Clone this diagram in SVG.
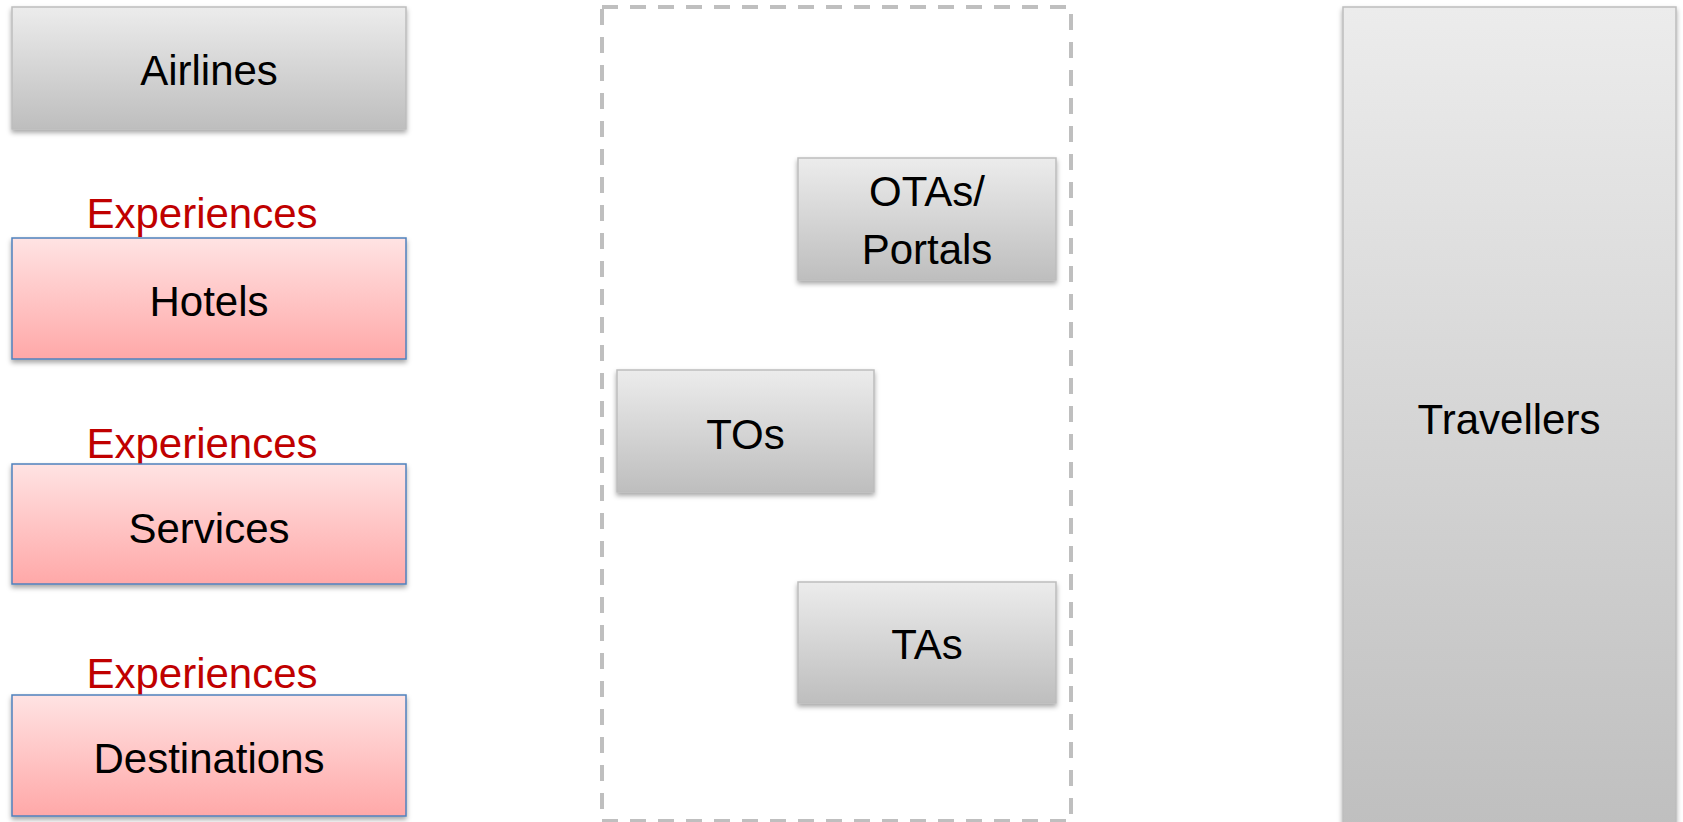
<svg xmlns="http://www.w3.org/2000/svg" width="1683" height="822" viewBox="0 0 1683 822">
  <defs>
    <linearGradient id="gGray" x1="0" y1="0" x2="0" y2="1">
      <stop offset="0" stop-color="#ECECEC"/>
      <stop offset="1" stop-color="#BEBEBE"/>
    </linearGradient>
    <linearGradient id="gPink" x1="0" y1="0" x2="0" y2="1">
      <stop offset="0" stop-color="#FFE3E3"/>
      <stop offset="1" stop-color="#FFA8A8"/>
    </linearGradient>
    <filter id="shadow" x="-10%" y="-10%" width="120%" height="130%">
      <feDropShadow dx="0" dy="3" stdDeviation="2.5" flood-color="#000" flood-opacity="0.35"/>
    </filter>
  </defs>
  <style>
    .gray { fill: url(#gGray); stroke: #BDBDBD; stroke-width: 1.5; filter: url(#shadow); }
    .pink { fill: url(#gPink); stroke: #4F81BD; stroke-width: 1.5; filter: url(#shadow); }
    .lbl { font-family: "Liberation Sans", Arial, sans-serif; font-size: 42px; fill: #000; text-anchor: middle; }
    .exp { font-family: "Liberation Sans", Arial, sans-serif; font-size: 42px; fill: #C00000; text-anchor: middle; }
    .frame { fill: none; stroke: #BFBFBF; stroke-width: 4; stroke-dasharray: 16 12; }
  </style>
  <rect width="1683" height="822" fill="#FFFFFF"/>

  <g id="intermediaries-frame">
    <rect class="frame" x="602" y="7" width="469" height="814"/>
  </g>

  <g id="airlines">
    <rect class="gray" x="12" y="7" width="394" height="122"/>
    <text class="lbl" x="209" y="85">Airlines</text>
  </g>

  <g id="hotels">
    <text class="exp" x="202" y="228">Experiences</text>
    <rect class="pink" x="12" y="238" width="394" height="121"/>
    <text class="lbl" x="209" y="316">Hotels</text>
  </g>

  <g id="services">
    <text class="exp" x="202" y="458">Experiences</text>
    <rect class="pink" x="12" y="464" width="394" height="120"/>
    <text class="lbl" x="209" y="543">Services</text>
  </g>

  <g id="destinations">
    <text class="exp" x="202" y="688">Experiences</text>
    <rect class="pink" x="12" y="695" width="394" height="121"/>
    <text class="lbl" x="209" y="773">Destinations</text>
  </g>

  <g id="otas">
    <rect class="gray" x="798" y="158" width="258" height="122"/>
    <text class="lbl" x="927" y="206">OTAs/</text>
    <text class="lbl" x="927" y="264">Portals</text>
  </g>

  <g id="tos">
    <rect class="gray" x="617" y="370" width="257" height="122"/>
    <text class="lbl" x="745.5" y="449">TOs</text>
  </g>

  <g id="tas">
    <rect class="gray" x="798" y="582" width="258" height="121"/>
    <text class="lbl" x="927" y="659">TAs</text>
  </g>

  <g id="travellers">
    <rect class="gray" x="1343" y="7" width="333" height="840"/>
    <text class="lbl" x="1509" y="434">Travellers</text>
  </g>

  <g id="connectors"></g>
</svg>
